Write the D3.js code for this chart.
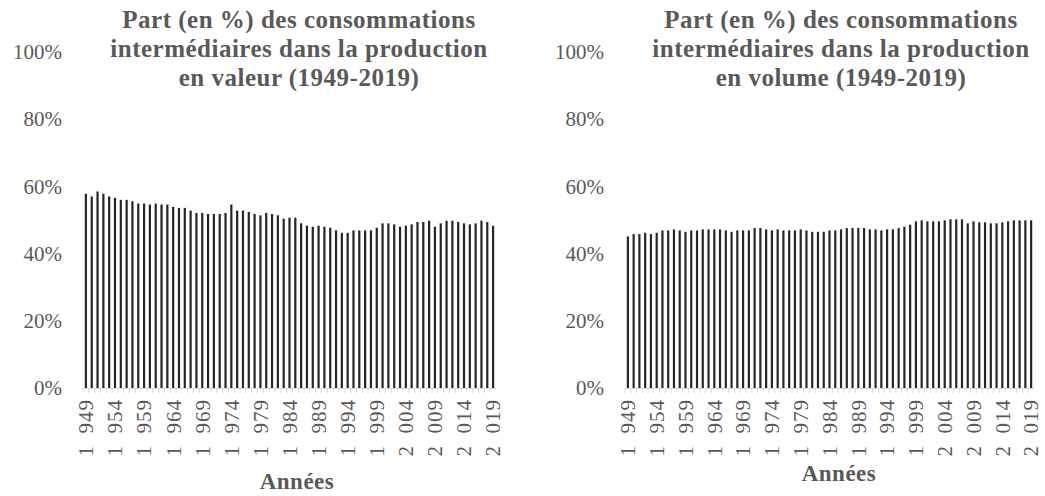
<!DOCTYPE html>
<html>
<head>
<meta charset="utf-8">
<script src="https://cdn.jsdelivr.net/npm/d3@7"></script>
<style>
  body { margin: 0; background: #fff; }
  svg text { font-family: "Liberation Serif", "DejaVu Serif", serif; fill: #595959; }
</style>
</head>
<body>
<svg id="chart" width="1045" height="496"></svg>
<script>
// years 1949..2019
const years = [
  1949, 1950, 1951, 1952, 1953, 1954, 1955, 1956, 1957, 1958,
  1959, 1960, 1961, 1962, 1963, 1964, 1965, 1966, 1967, 1968,
  1969, 1970, 1971, 1972, 1973, 1974, 1975, 1976, 1977, 1978,
  1979, 1980, 1981, 1982, 1983, 1984, 1985, 1986, 1987, 1988,
  1989, 1990, 1991, 1992, 1993, 1994, 1995, 1996, 1997, 1998,
  1999, 2000, 2001, 2002, 2003, 2004, 2005, 2006, 2007, 2008,
  2009, 2010, 2011, 2012, 2013, 2014, 2015, 2016, 2017, 2018, 2019
];

// share (%) of intermediate consumption, value
const valeur = [
  57.8, 57.0, 58.5, 57.8, 57.0, 56.6, 56.0, 56.0, 55.6, 54.9,
  54.9, 54.6, 54.9, 54.6, 54.6, 53.9, 53.6, 53.6, 52.8, 52.1,
  52.1, 51.8, 51.8, 51.8, 52.1, 54.6, 52.8, 52.8, 52.4, 51.8,
  51.4, 52.1, 51.8, 51.4, 50.4, 50.7, 50.7, 49.0, 48.3, 48.0,
  48.3, 48.0, 47.7, 46.9, 46.2, 46.2, 46.9, 46.9, 46.9, 46.9,
  47.7, 49.0, 49.0, 48.7, 48.0, 48.3, 48.7, 49.4, 49.4, 49.8,
  48.0, 49.0, 49.8, 49.8, 49.4, 49.0, 48.7, 49.0, 49.8, 49.4, 48.3
];

// share (%) of intermediate consumption, volume
const volume = [
  45.1, 45.8, 45.8, 46.2, 45.8, 46.2, 46.9, 46.9, 47.2, 46.9,
  46.5, 46.9, 46.9, 47.2, 47.2, 47.2, 47.2, 46.9, 46.5, 46.9,
  46.9, 46.9, 47.6, 47.6, 47.2, 46.9, 47.2, 46.9, 46.9, 46.9,
  47.2, 46.9, 46.5, 46.5, 46.5, 46.9, 46.9, 47.2, 47.6, 47.6,
  47.6, 47.6, 47.2, 47.2, 46.9, 47.2, 47.2, 47.6, 48.0, 48.6,
  49.6, 49.9, 49.6, 49.6, 49.6, 49.9, 50.2, 50.2, 50.2, 49.0,
  49.6, 49.3, 49.3, 49.0, 49.0, 49.3, 49.6, 49.9, 49.9, 49.9, 49.9
];

const yTicks = [0, 20, 40, 60, 80, 100];

const titles = [
  ["Part (en %) des consommations", "intermédiaires dans la production", "en valeur (1949-2019)"],
  ["Part (en %) des consommations", "intermédiaires dans la production", "en volume (1949-2019)"]
];

const fr = d3.formatLocale({ decimal: ",", thousands: "\u2002", grouping: [3], currency: ["", " €"] });
const yearFmt = fr.format(",d");

const svg = d3.select("#chart");

const panels = [
  { data: valeur, title: titles[0], dx: 0, xEnd: 496, axisTitleY: 489 },
  { data: volume, title: titles[1], dx: 542, xEnd: 492, axisTitleY: 481 }
];

const yScale = d3.scaleLinear().domain([0, 100]).range([388, 52]);

panels.forEach(p => {
  const g = svg.append("g").attr("transform", `translate(${p.dx},0)`);

  const xScale = d3.scaleBand()
    .domain(years)
    .range([83, p.xEnd])
    .paddingInner(0.62)
    .paddingOuter(0.31);

  // title
  g.append("text")
    .attr("x", 299)
    .attr("y", 28)
    .attr("text-anchor", "middle")
    .style("font-size", "25px")
    .style("letter-spacing", "0.5px")
    .style("font-weight", "bold")
    .selectAll("tspan")
    .data(p.title)
    .join("tspan")
    .attr("x", 299)
    .attr("dy", (d, i) => i === 0 ? 0 : 29)
    .text(d => d);

  // y axis labels only
  const yAxis = d3.axisLeft(yScale)
    .tickValues(yTicks)
    .tickSize(0)
    .tickPadding(0)
    .tickFormat(d => d + "%");
  g.append("g")
    .attr("transform", "translate(62,0)")
    .call(yAxis)
    .call(s => s.select(".domain").remove())
    .selectAll("text")
    .style("font-size", "21px")
    .style("fill", "#595959")
    .style("font-family", "'Liberation Serif', serif");

  // bars
  g.append("g")
    .selectAll("rect")
    .data(p.data)
    .join("rect")
    .attr("x", (d, i) => xScale(years[i]))
    .attr("width", xScale.bandwidth())
    .attr("y", d => yScale(d))
    .attr("height", d => yScale(0) - yScale(d))
    .attr("fill", "#262626");

  // x axis
  const step = xScale.step();
  const xAxis = d3.axisBottom(xScale)
    .tickSizeInner(5)
    .tickSizeOuter(0)
    .tickFormat(d => (d - 1949) % 5 === 0 ? yearFmt(d) : "");
  const ax = g.append("g")
    .attr("transform", `translate(0,${yScale(0)})`)
    .call(xAxis);
  ax.select(".domain").attr("stroke", "#d9d9d9");
  ax.selectAll(".tick line")
    .attr("stroke", "#d9d9d9")
    .attr("x1", -step / 2)
    .attr("x2", -step / 2);
  ax.selectAll(".tick text")
    .attr("transform", "rotate(-90)")
    .attr("x", -11)
    .attr("y", 0)
    .attr("dy", "0.35em")
    .style("text-anchor", "end")
    .style("font-size", "21px")
    .style("letter-spacing", "1px")
    .style("fill", "#595959")
    .style("font-family", "'Liberation Serif', serif");

  // axis title
  g.append("text")
    .attr("x", 297)
    .attr("y", p.axisTitleY)
    .attr("text-anchor", "middle")
    .style("font-size", "23px")
    .style("letter-spacing", "0.5px")
    .style("font-weight", "bold")
    .text("Années");
});
</script>
</body>
</html>
